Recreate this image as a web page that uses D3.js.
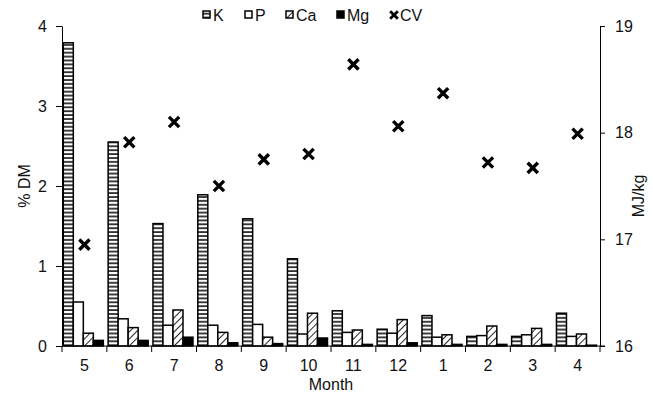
<!DOCTYPE html>
<html>
<head>
<meta charset="utf-8">
<script src="https://cdn.jsdelivr.net/npm/d3@7"></script>
<style>
  body { margin: 0; background: #fff; }
  text { font-family: "Liberation Sans", Arial, sans-serif; }
</style>
</head>
<body>
<div id="chart"></div>
<script>
// chart size and margins
const width = 653;
const height = 395;
const margin = {left: 62, right: 53, top: 26, bottom: 49};

// data
const months = ["5", "6", "7", "8", "9", "10", "11", "12", "1", "2", "3", "4"];
const seriesNames = ["K", "P", "Ca", "Mg"];
const kVals  = [3.79, 2.55, 1.53, 1.89, 1.59, 1.09, 0.44, 0.21, 0.38, 0.12, 0.12, 0.41];
const pVals  = [0.55, 0.34, 0.26, 0.26, 0.27, 0.15, 0.17, 0.16, 0.11, 0.13, 0.14, 0.12];
const caVals = [0.16, 0.23, 0.45, 0.17, 0.11, 0.41, 0.20, 0.33, 0.14, 0.25, 0.22, 0.15];
const mgVals = [0.07, 0.07, 0.11, 0.04, 0.03, 0.10, 0.02, 0.04, 0.02, 0.02, 0.02, 0.01];
const cvVals = [16.95, 17.91, 18.10, 17.50, 17.75, 17.80, 18.64, 18.06, 18.37, 17.72, 17.67, 17.99];
const leftTicks = [0, 1, 2, 3, 4];
const rightTicks = [16, 17, 18, 19];

const fontSize = "16px";

const svg = d3.select("#chart")
  .append("svg")
  .attr("width", width)
  .attr("height", height);

// fill patterns for the bars
const defs = svg.append("defs");

const stripes = defs.append("pattern")
  .attr("id", "stripes")
  .attr("patternUnits", "userSpaceOnUse")
  .attr("width", 6).attr("height", 3.9);
stripes.append("rect").attr("width", 6).attr("height", 3.9).attr("fill", "#fff");
stripes.append("line")
  .attr("x1", 0).attr("x2", 6).attr("y1", 2).attr("y2", 2)
  .attr("stroke", "#111").attr("stroke-width", 1.6);

const hatch = defs.append("pattern")
  .attr("id", "hatch")
  .attr("patternUnits", "userSpaceOnUse")
  .attr("width", 5).attr("height", 5)
  .attr("patternTransform", "rotate(45)");
hatch.append("rect").attr("width", 5).attr("height", 5).attr("fill", "#fff");
hatch.append("line")
  .attr("x1", 0).attr("x2", 0).attr("y1", 0).attr("y2", 5)
  .attr("stroke", "#000").attr("stroke-width", 1.7);

const fills = {K: "url(#stripes)", P: "#fff", Ca: "url(#hatch)", Mg: "#000"};

// rows for each month
const data = months.map((m, i) => ({
  month: m,
  K: kVals[i], P: pVals[i], Ca: caVals[i], Mg: mgVals[i],
  CV: cvVals[i]
}));

// scales
const xScale = d3.scaleBand()
  .domain(months)
  .range([margin.left, width - margin.right])
  .padding(0);

const xSub = d3.scaleBand()
  .domain(seriesNames)
  .range([1.3, xScale.bandwidth() - 3.5])
  .padding(0);

const yLeft = d3.scaleLinear()
  .domain([0, 4])
  .range([height - margin.bottom, margin.top]);

const yRight = d3.scaleLinear()
  .domain([16, 19])
  .range([height - margin.bottom, margin.top]);

// bars
const groups = svg.selectAll(".grp")
  .data(data)
  .enter()
  .append("g")
    .attr("class", "grp")
    .attr("transform", d => `translate(${xScale(d.month)},0)`);

groups.selectAll("rect")
  .data(d => seriesNames.map(s => ({key: s, value: d[s]})))
  .enter()
  .append("rect")
    .attr("x", d => xSub(d.key))
    .attr("y", d => yLeft(d.value))
    .attr("width", xSub.bandwidth())
    .attr("height", d => yLeft(0) - yLeft(d.value))
    .attr("fill", d => fills[d.key])
    .attr("stroke", "#000")
    .attr("stroke-width", 1.5);

// CV markers
const cross = d3.symbol().type(d3.symbolX).size(70);
svg.selectAll(".cv")
  .data(data)
  .enter()
  .append("path")
    .attr("class", "cv")
    .attr("d", cross)
    .attr("transform", d => `translate(${xScale(d.month) + xScale.bandwidth() / 2},${yRight(d.CV)})`)
    .attr("fill", "none")
    .attr("stroke", "#000")
    .attr("stroke-width", 3.4);

// left axis
const gl = svg.append("g")
  .attr("transform", `translate(${margin.left},0)`)
  .call(d3.axisLeft(yLeft).tickValues(leftTicks).tickFormat(d3.format("d"))
    .tickSize(6).tickPadding(9).tickSizeOuter(0));
gl.selectAll("text").attr("font-size", fontSize).attr("fill", "#111");

// right axis
const gr = svg.append("g")
  .attr("transform", `translate(${width - margin.right},0)`)
  .call(d3.axisRight(yRight).tickValues(rightTicks).tickFormat(d3.format("d"))
    .tickSize(5).tickPadding(10).tickSizeOuter(0));
gr.selectAll("text").attr("font-size", fontSize).attr("fill", "#111");

// bottom axis with ticks between months
const gb = svg.append("g")
  .attr("transform", `translate(0,${height - margin.bottom})`)
  .call(d3.axisBottom(xScale).tickSize(0).tickPadding(14));
gb.select(".domain").remove();
gb.append("line")
  .attr("x1", margin.left).attr("x2", width - margin.right + 5)
  .attr("stroke", "#000");
gb.selectAll(".sep")
  .data(months.concat(["end"]))
  .enter()
  .append("line")
    .attr("class", "sep")
    .attr("x1", (d, i) => margin.left + i * xScale.bandwidth())
    .attr("x2", (d, i) => margin.left + i * xScale.bandwidth())
    .attr("y1", 0).attr("y2", 6)
    .attr("stroke", "#000");
gb.selectAll(".tick text").attr("font-size", fontSize).attr("fill", "#111");

[gl, gr].forEach(g => g.selectAll("path, line").attr("stroke", "#000"));

// axis titles
svg.append("text")
  .attr("x", (margin.left + width - margin.right) / 2)
  .attr("y", 390)
  .attr("text-anchor", "middle")
  .attr("font-size", fontSize)
  .attr("fill", "#111")
  .text("Month");

svg.append("text")
  .attr("transform", `translate(30,${(margin.top + height - margin.bottom) / 2}) rotate(-90)`)
  .attr("text-anchor", "middle")
  .attr("font-size", fontSize)
  .attr("fill", "#111")
  .text("% DM");

svg.append("text")
  .attr("transform", `translate(644,196) rotate(-90)`)
  .attr("text-anchor", "middle")
  .attr("font-size", fontSize)
  .attr("fill", "#111")
  .text("MJ/kg");

// legend
const legendItems = [
  {name: "K", x: 203},
  {name: "P", x: 245},
  {name: "Ca", x: 286},
  {name: "Mg", x: 337},
  {name: "CV", x: 390}
];
const lg = svg.append("g");
legendItems.forEach(it => {
  if (it.name === "CV") {
    lg.append("path")
      .attr("d", d3.symbol().type(d3.symbolX).size(40)())
      .attr("transform", `translate(${it.x + 4},15)`)
      .attr("fill", "none").attr("stroke", "#000").attr("stroke-width", 2.8);
  } else {
    lg.append("rect")
      .attr("x", it.x).attr("y", 11)
      .attr("width", 7).attr("height", 7)
      .attr("fill", fills[it.name])
      .attr("stroke", "#000").attr("stroke-width", 1.5);
  }
  lg.append("text")
    .attr("x", it.x + 10)
    .attr("y", 20.5)
    .attr("font-size", fontSize)
    .attr("fill", "#111")
    .text(it.name);
});
</script>
</body>
</html>
